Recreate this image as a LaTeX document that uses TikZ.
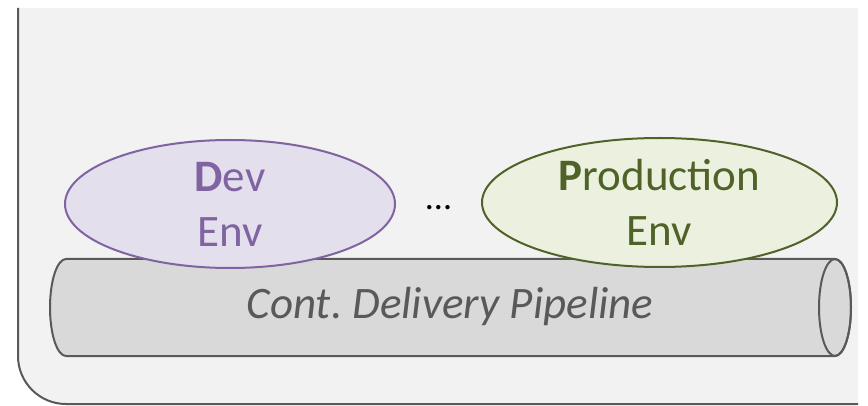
\documentclass[tikz,border=0pt]{standalone}
\usepackage{fontspec}
\setmainfont{Carlito}
\usetikzlibrary{shapes.geometric}
\definecolor{boxfill}{HTML}{F2F2F2}
\definecolor{boxline}{HTML}{595959}
\definecolor{pipefill}{HTML}{D9D9D9}
\definecolor{devfill}{HTML}{E4DFEC}
\definecolor{devline}{HTML}{8064A2}
\definecolor{prodfill}{HTML}{EBF1DE}
\definecolor{prodline}{HTML}{4F6228}
\tikzset{
  envbox/.style={ellipse, draw, line width=2pt, inner sep=0pt, align=center,
    font=\fontsize{45}{55}\selectfont},
}
\begin{document}
\frenchspacing
\begin{tikzpicture}[x=1pt,y=-1pt]
\useasboundingbox (0,0) rectangle (868,406);
\fill[white] (0,0) rectangle (868,406);
% outer container (cropped)
\fill[boxfill] (858,8) -- (18,8) -- (18,356) arc[start angle=180, end angle=90, radius=48] -- (858,404) -- cycle;
\draw[boxline, line width=2pt] (18,8) -- (18,356) arc[start angle=180, end angle=90, radius=48] -- (858,404);
% pipeline cylinder
\filldraw[fill=pipefill, draw=boxline, line width=2pt]
  (66,259) -- (835,259) arc[start angle=-90, end angle=90, x radius=16, y radius=48.5]
  -- (66,356) arc[start angle=90, end angle=270, x radius=16, y radius=48.5] -- cycle;
\draw[boxline, line width=2pt] (835,307.5) ellipse[x radius=16, y radius=48.5];
\node[text=boxline, font=\fontsize{45}{53}\selectfont\itshape] (pipe) at (450,307) {Cont. Delivery Pipeline};
% environments
\node[envbox, fill=devfill, draw=devline, text=devline, minimum width=330pt, minimum height=128pt] (dev) at (230,204) {\textbf{D}ev\\Env};
\node[envbox, fill=prodfill, draw=prodline, text=prodline, minimum width=355pt, minimum height=129pt] (prod) at (659.5,202.5) {\textbf{P}roduction\\Env};
\node[anchor=base, font=\fontsize{36}{40}\selectfont, text=black] (dots) at (438.5,210) {...};
\end{tikzpicture}
\end{document}
